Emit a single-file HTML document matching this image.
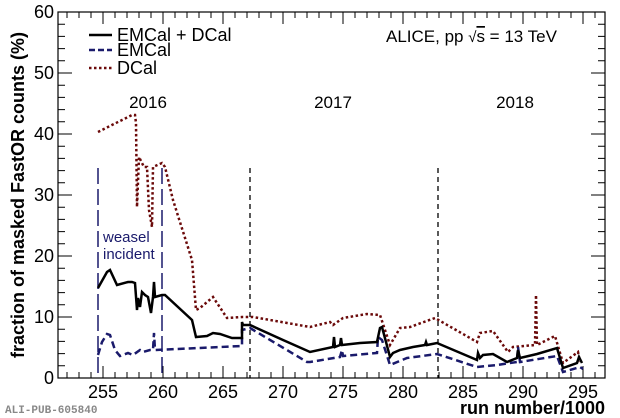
<!DOCTYPE html>
<html><head><style>
body{margin:0;background:#fff;}
svg{display:block;font-family:"Liberation Sans",sans-serif;}
</style></head><body>
<svg width="620" height="418" viewBox="0 0 620 418" xmlns="http://www.w3.org/2000/svg">
<!-- x ticks bottom/top -->
<g stroke="#000">
<line x1="66.5" y1="375" x2="600" y2="375" stroke-width="6" stroke-dasharray="1 11"/>
<line x1="102.5" y1="372" x2="600" y2="372" stroke-width="12" stroke-dasharray="1 59"/>
<line x1="66.5" y1="15" x2="600" y2="15" stroke-width="6" stroke-dasharray="1 11"/>
<line x1="102.5" y1="18" x2="600" y2="18" stroke-width="12" stroke-dasharray="1 59"/>
<line x1="61.5" y1="378.5" x2="61.5" y2="11" stroke-width="7" stroke-dasharray="1 11.2"/>
<line x1="65" y1="378.5" x2="65" y2="11" stroke-width="14" stroke-dasharray="1 60"/>
<line x1="601.5" y1="378.5" x2="601.5" y2="11" stroke-width="7" stroke-dasharray="1 11.2"/>
<line x1="598" y1="378.5" x2="598" y2="11" stroke-width="14" stroke-dasharray="1 60"/>
</g>
<rect x="58" y="12" width="547" height="366" fill="none" stroke="#000" stroke-width="1.2"/>
<g font-size="18" text-anchor="end" fill="#000">
<text x="54" y="384">0</text><text x="54" y="323">10</text><text x="54" y="262">20</text>
<text x="54" y="201">30</text><text x="54" y="140">40</text><text x="54" y="79">50</text><text x="54" y="18">60</text>
</g>
<g font-size="18" text-anchor="middle">
<text x="103" y="398">255</text><text x="163" y="398">260</text><text x="223" y="398">265</text><text x="283" y="398">270</text>
<text x="343" y="398">275</text><text x="403" y="398">280</text><text x="463" y="398">285</text><text x="523" y="398">290</text><text x="583" y="398">295</text>
</g>
<text x="605" y="414" font-size="18" font-weight="bold" text-anchor="end">run number/1000</text>
<text transform="translate(24,195) rotate(-90)" font-size="18" font-weight="bold" text-anchor="middle">fraction of masked FastOR counts (%)</text>
<text x="5" y="413" font-family="Liberation Mono,monospace" font-size="11" font-weight="bold" fill="#888">ALI-PUB-605840</text>
<line x1="89" y1="35" x2="112" y2="35" stroke="#000" stroke-width="2.5"/>
<line x1="89" y1="50" x2="112" y2="50" stroke="#1a1a6b" stroke-width="2.5" stroke-dasharray="6,3"/>
<line x1="89" y1="68" x2="112" y2="68" stroke="#6b0a0a" stroke-width="2.5" stroke-dasharray="2.5,2.5"/>
<g font-size="18"><text x="117" y="41">EMCal + DCal</text><text x="117" y="56">EMCal</text><text x="117" y="74">DCal</text></g>
<text x="386" y="42" font-size="17">ALICE, pp <tspan font-size="15">√</tspan><tspan text-decoration="overline">s</tspan> = 13 TeV</text>
<g font-size="17" text-anchor="middle"><text x="148" y="108">2016</text><text x="333" y="108">2017</text><text x="515" y="108">2018</text></g>
<g font-size="15" fill="#1a1a6b"><text x="103" y="242">weasel</text><text x="103" y="259">incident</text></g>
<line x1="98" y1="168" x2="98" y2="378" stroke="#1a1a6b" stroke-width="1.5" stroke-dasharray="16,5"/>
<line x1="162" y1="168" x2="162" y2="378" stroke="#1a1a6b" stroke-width="1.5" stroke-dasharray="16,5"/>
<line x1="250" y1="168" x2="250" y2="378" stroke="#000" stroke-width="1.3" stroke-dasharray="5,4"/>
<line x1="438" y1="168" x2="438" y2="378" stroke="#000" stroke-width="1.3" stroke-dasharray="5,4"/>
<polyline fill="none" stroke="#6b0a0a" stroke-width="2.5" stroke-dasharray="2.5,2.5" points="98,132 132,115 135,115 136,123 137,207 139,157 142,163 144,167 147,167 149,210 152,227 153,167 162,163 165,167 173,200 192,260 196,310 200,308 213,297 227,318 242,317 253,317 310,327 330,322 333,325 343,318 367,314 380,315 390,345 400,328 410,327 435,318 477,342 480,333 493,331 508,352 513,347 535,345 536,295 537,345 555,336 563,363 578,352 580,362"/>
<polyline fill="none" stroke="#1a1a6b" stroke-width="2.5" stroke-dasharray="7,4" points="98,355 102,342 107,334 110,335 115,350 120,356 128,353 133,355 140,350 143,352 150,350 153,350 154,333 155,350 242,346 242,330 250,328 307,362 310,362 340,357 342,350 343,356 377,353 378,337 382,340 390,365 407,358 437,354 477,367 497,365 517,362 518,347 520,362 557,356 563,372 580,367 583,369"/>
<polyline fill="none" stroke="#000" stroke-width="2.5" points="98,288 107,272 110,270 117,285 128,282 132,282 135,283 137,310 138,298 140,307 142,292 145,295 148,297 151,313 153,297 154,282 155,297 162,295 165,295 192,320 196,337 207,336 213,333 220,334 232,338 242,338 242,322 243,325 250,325 283,340 310,352 333,347 334,337 335,347 340,345 341,338 342,345 360,343 377,342 380,328 382,327 390,357 393,353 400,350 413,347 425,345 426,342 427,345 437,343 477,360 478,353 480,358 483,355 493,354 507,362 517,358 518,350 520,358 537,354 557,348 563,368 577,363 579,357 582,363"/>
</svg>
</body></html>
